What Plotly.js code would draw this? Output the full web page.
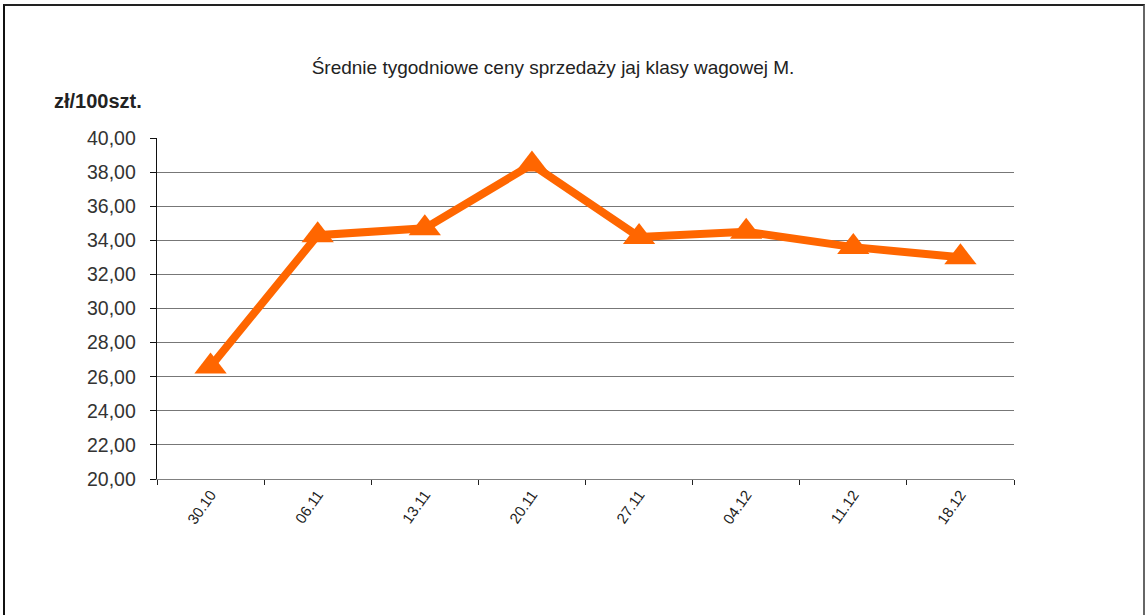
<!DOCTYPE html>
<html>
<head>
<meta charset="utf-8">
<script src="https://cdn.plot.ly/plotly-3.0.1.min.js"></script>
<style>
  html, body { margin: 0; padding: 0; background: #fff; }
  #wrap { position: relative; width: 1148px; height: 615px; overflow: hidden; }
  #chart { width: 1148px; height: 615px; }
  #frame { position: absolute; left: 3px; top: 4px; width: 1142px; height: 640px;
           border-left: 2px solid #111; border-top: 2px solid #222; border-right: 2px solid #666;
           box-sizing: border-box; pointer-events: none; }
</style>
</head>
<body>
<div id="wrap">
  <div id="chart"></div>
  <div id="frame"></div>
</div>
<script>
const chartTitle = 'Średnie tygodniowe ceny sprzedaży jaj klasy wagowej M.';
const yUnit = 'zł/100szt.';
const weeks = ['30.10', '06.11', '13.11', '20.11', '27.11', '04.12', '11.12', '18.12'];
const prices = [26.6, 34.3, 34.7, 38.45, 34.2, 34.5, 33.6, 33.0];

const trace = {
  type: 'scatter',
  mode: 'lines+markers',
  x: weeks,
  y: prices,
  line: { color: '#FF6600', width: 8 },
  marker: { symbol: 'triangle-up', size: 28, color: '#FF6600' },
  hoverinfo: 'x+y'
};

const layout = {
  width: 1148,
  height: 615,
  paper_bgcolor: '#ffffff',
  plot_bgcolor: '#ffffff',
  showlegend: false,
  separators: ', ',
  margin: { l: 157, r: 134, t: 138, b: 136 },
  font: { family: 'Arial, "Liberation Sans", sans-serif', color: '#222' },
  title: {
    text: chartTitle,
    font: { size: 19, color: '#222', family: 'Arial, "Liberation Sans", sans-serif' },
    xref: 'container', yref: 'container',
    x: 553 / 1148, xanchor: 'center',
    y: 1 - 67 / 615, yanchor: 'middle'
  },
  xaxis: {
    type: 'category',
    range: [-0.5, 7.5],
    showgrid: false,
    showline: true,
    linecolor: '#808080',
    linewidth: 1,
    ticks: 'outside',
    ticklen: 5,
    tickcolor: '#222',
    tickson: 'boundaries',
    tickangle: -55,
    tickfont: { size: 15, color: '#222' },
    zeroline: false,
    fixedrange: true
  },
  yaxis: {
    range: [20, 40],
    dtick: 2,
    tick0: 20,
    tickformat: '.2f',
    showgrid: true,
    gridcolor: '#777777',
    gridwidth: 1,
    showline: true,
    linecolor: '#111',
    linewidth: 1.3,
    ticks: 'outside',
    ticklen: 6,
    tickcolor: '#111',
    ticklabelstandoff: 10,
    tickfont: { size: 19.5, color: '#333' },
    zeroline: false,
    fixedrange: true
  },
  annotations: [{
    text: '<b>' + yUnit + '</b>',
    xref: 'paper', yref: 'paper',
    x: (52 - 157) / (1148 - 157 - 134), xanchor: 'left',
    y: 1 + (138 - 101) / (615 - 138 - 136), yanchor: 'middle',
    showarrow: false,
    font: { size: 20, color: '#222' }
  }]
};

Plotly.newPlot('chart', [trace], layout, { displayModeBar: false, staticPlot: true });
</script>
</body>
</html>
